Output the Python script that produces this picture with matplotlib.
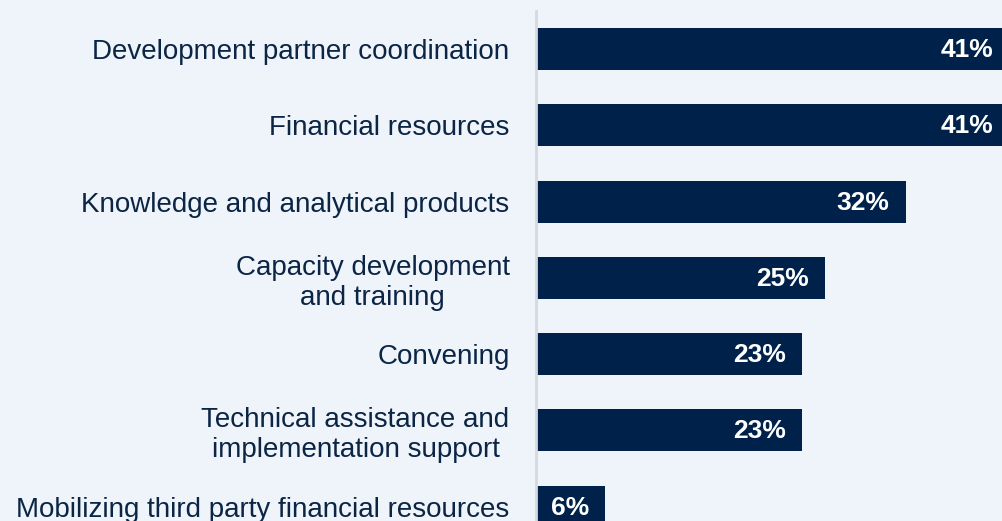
import matplotlib
matplotlib.use("Agg")
import matplotlib.pyplot as plt

categories = [
    "Development partner coordination",
    "Financial resources",
    "Knowledge and analytical products",
    "Capacity development\nand training",
    "Convening",
    "Technical assistance and\nimplementation support",
    "Mobilizing third party financial resources",
]
values = [41, 41, 32, 25, 23, 23, 6]
value_labels = ["41%", "41%", "32%", "25%", "23%", "23%", "6%"]

BG = "#eff3fa"
BAR = "#00224a"
TXT = "#0b2545"

plt.rcParams["font.family"] = ["Liberation Sans", "DejaVu Sans"]

fig = plt.figure(figsize=(10.03, 5.21), dpi=100, facecolor=BG)
ax = fig.add_axes([536 / 1003, 0, 1 - 536 / 1003, 510 / 521])
ax.set_facecolor(BG)

ypos = list(range(len(categories)))
ax.barh(ypos, values, height=0.55, color=BAR, edgecolor="none")

ax.set_xlim(0, 467 / 11.55)
ax.set_ylim(6.19, -0.5)

for y, v, lab in zip(ypos, values, value_labels):
    ax.annotate(lab, xy=(v, y), xytext=(-16, -1), textcoords="offset pixels",
                ha="right", va="center", color="white", fontsize=19,
                fontweight="bold", annotation_clip=False, clip_on=True)

ax.set_yticks(ypos)
ax.set_yticklabels(categories, fontsize=20, color=TXT, multialignment="center",
                   linespacing=1.2)
ax.tick_params(axis="y", length=0, pad=19)
ax.set_xticks([])

for s in ["top", "right", "bottom"]:
    ax.spines[s].set_visible(False)
ax.spines["left"].set_color("#d6d9de")
ax.spines["left"].set_linewidth(2)

fig.savefig("out.png", dpi=100, facecolor=BG)
